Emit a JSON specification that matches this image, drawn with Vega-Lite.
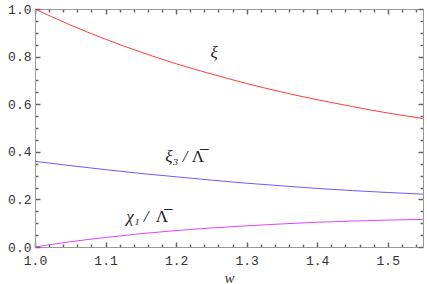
{
  "$schema": "https://vega.github.io/schema/vega-lite/v6.json",
  "width": 388,
  "height": 238,
  "autosize": {"type": "none"},
  "padding": {"left": 35, "top": 9, "right": 4, "bottom": 37},
  "background": "white",
  "config": {"view": {"stroke": null}, "axis": {"grid": false}},
  "datasets": {
    "curves": [
      {"w": 1.00, "v": 1.000, "s": "xi"}, {"w": 1.05, "v": 0.933, "s": "xi"}, {"w": 1.10, "v": 0.873, "s": "xi"},
      {"w": 1.15, "v": 0.819, "s": "xi"}, {"w": 1.20, "v": 0.770, "s": "xi"}, {"w": 1.25, "v": 0.727, "s": "xi"},
      {"w": 1.30, "v": 0.687, "s": "xi"}, {"w": 1.35, "v": 0.651, "s": "xi"}, {"w": 1.40, "v": 0.619, "s": "xi"},
      {"w": 1.45, "v": 0.590, "s": "xi"}, {"w": 1.50, "v": 0.563, "s": "xi"}, {"w": 1.55, "v": 0.540, "s": "xi"},
      {"w": 1.00, "v": 0.360, "s": "xi3"}, {"w": 1.05, "v": 0.342, "s": "xi3"}, {"w": 1.10, "v": 0.325, "s": "xi3"},
      {"w": 1.15, "v": 0.309, "s": "xi3"}, {"w": 1.20, "v": 0.295, "s": "xi3"}, {"w": 1.25, "v": 0.281, "s": "xi3"},
      {"w": 1.30, "v": 0.268, "s": "xi3"}, {"w": 1.35, "v": 0.257, "s": "xi3"}, {"w": 1.40, "v": 0.246, "s": "xi3"},
      {"w": 1.45, "v": 0.237, "s": "xi3"}, {"w": 1.50, "v": 0.229, "s": "xi3"}, {"w": 1.55, "v": 0.222, "s": "xi3"},
      {"w": 1.00, "v": 0.000, "s": "chi1"}, {"w": 1.05, "v": 0.022, "s": "chi1"}, {"w": 1.10, "v": 0.040, "s": "chi1"},
      {"w": 1.15, "v": 0.056, "s": "chi1"}, {"w": 1.20, "v": 0.069, "s": "chi1"}, {"w": 1.25, "v": 0.080, "s": "chi1"},
      {"w": 1.30, "v": 0.089, "s": "chi1"}, {"w": 1.35, "v": 0.097, "s": "chi1"}, {"w": 1.40, "v": 0.104, "s": "chi1"},
      {"w": 1.45, "v": 0.109, "s": "chi1"}, {"w": 1.50, "v": 0.113, "s": "chi1"}, {"w": 1.55, "v": 0.116, "s": "chi1"}
    ],
    "italic": [
      {"w": 1.259, "v": 0.794, "label": "ξ"},
      {"w": 1.216, "v": 0.356, "label": "ξ₃ /"},
      {"w": 1.161, "v": 0.105, "label": "χ₁ /"}
    ],
    "upright": [
      {"w": 1.231, "v": 0.356, "label": "Λ̅"},
      {"w": 1.180, "v": 0.105, "label": "Λ̅"}
    ]
  },
  "resolve": {"axis": {"x": "independent", "y": "independent"}},
  "layer": [
    {
      "data": {"name": "curves"},
      "mark": {"type": "line", "strokeWidth": 1, "interpolate": "monotone"},
      "encoding": {
        "x": {"field": "w", "type": "quantitative", "scale": {"domain": [1, 1.55], "nice": false, "zero": false},
          "axis": {"orient": "bottom", "values": [1.0, 1.02, 1.04, 1.06, 1.08, 1.1, 1.12, 1.14, 1.16, 1.18, 1.2, 1.22, 1.24, 1.26, 1.28, 1.3, 1.32, 1.34, 1.36, 1.38, 1.4, 1.42, 1.44, 1.46, 1.48, 1.5, 1.52, 1.54],
            "labelExpr": "abs(datum.value*10-round(datum.value*10))<0.001 ? format(datum.value, '.1f') : ''",
            "tickSize": {"condition": {"test": "abs(datum.value*10-round(datum.value*10))<0.001", "value": -5}, "value": -3},
            "tickColor": "#666666", "tickWidth": 1.5, "domainColor": "#999999", "domainWidth": 1, "labelFlush": false, "labelOverlap": false,
            "labelFont": "Liberation Mono", "labelFontSize": 13, "labelColor": "#333333", "labelPadding": 12,
            "title": "w", "titleFont": "Liberation Serif", "titleFontStyle": "italic", "titleFontWeight": "normal", "titleFontSize": 15, "titleColor": "#333333", "titlePadding": 1}},
        "y": {"field": "v", "type": "quantitative", "scale": {"domain": [0, 1], "nice": false},
          "axis": {"orient": "left", "values": [0, 0.05, 0.1, 0.15, 0.2, 0.25, 0.3, 0.35, 0.4, 0.45, 0.5, 0.55, 0.6, 0.65, 0.7, 0.75, 0.8, 0.85, 0.9, 0.95, 1.0],
            "labelExpr": "abs(datum.value*5-round(datum.value*5))<0.001 ? format(datum.value, '.1f') : ''",
            "tickSize": {"condition": {"test": "abs(datum.value*5-round(datum.value*5))<0.001", "value": -5}, "value": -3},
            "tickColor": "#666666", "tickWidth": 1.5, "domainColor": "#999999", "domainWidth": 1, "labelFlush": false, "labelOverlap": false,
            "labelFont": "Liberation Mono", "labelFontSize": 13, "labelColor": "#333333", "labelPadding": 9, "title": null}},
        "color": {"field": "s", "type": "nominal", "scale": {"domain": ["xi", "xi3", "chi1"], "range": ["#ff3a3a", "#6a5cff", "#dd44ff"]}, "legend": null}
      }
    },
    {
      "data": {"name": "curves"},
      "mark": {"type": "line", "opacity": 0},
      "encoding": {
        "x": {"field": "w", "type": "quantitative",
          "axis": {"orient": "top", "values": [1.0, 1.02, 1.04, 1.06, 1.08, 1.1, 1.12, 1.14, 1.16, 1.18, 1.2, 1.22, 1.24, 1.26, 1.28, 1.3, 1.32, 1.34, 1.36, 1.38, 1.4, 1.42, 1.44, 1.46, 1.48, 1.5, 1.52, 1.54],
            "labels": false,
            "tickSize": {"condition": {"test": "abs(datum.value*10-round(datum.value*10))<0.001", "value": -5}, "value": -3},
            "tickColor": "#666666", "tickWidth": 1.5, "domainColor": "#999999", "domainWidth": 1, "title": null}},
        "y": {"field": "v", "type": "quantitative",
          "axis": {"orient": "right", "values": [0, 0.05, 0.1, 0.15, 0.2, 0.25, 0.3, 0.35, 0.4, 0.45, 0.5, 0.55, 0.6, 0.65, 0.7, 0.75, 0.8, 0.85, 0.9, 0.95, 1.0],
            "labels": false,
            "tickSize": {"condition": {"test": "abs(datum.value*5-round(datum.value*5))<0.001", "value": -5}, "value": -3},
            "tickColor": "#666666", "tickWidth": 1.5, "domainColor": "#999999", "domainWidth": 1, "title": null}}
      }
    },
    {
      "data": {"name": "italic"},
      "mark": {"type": "text", "font": "Liberation Serif", "fontStyle": "italic", "fontSize": 17, "color": "#222222", "align": "right", "baseline": "alphabetic"},
      "encoding": {
        "x": {"field": "w", "type": "quantitative", "axis": null},
        "y": {"field": "v", "type": "quantitative", "axis": null},
        "text": {"field": "label"}
      }
    },
    {
      "data": {"name": "upright"},
      "mark": {"type": "text", "font": "Liberation Serif", "fontSize": 17, "color": "#222222", "align": "center", "baseline": "alphabetic"},
      "encoding": {
        "x": {"field": "w", "type": "quantitative", "axis": null},
        "y": {"field": "v", "type": "quantitative", "axis": null},
        "text": {"field": "label"}
      }
    }
  ]
}
